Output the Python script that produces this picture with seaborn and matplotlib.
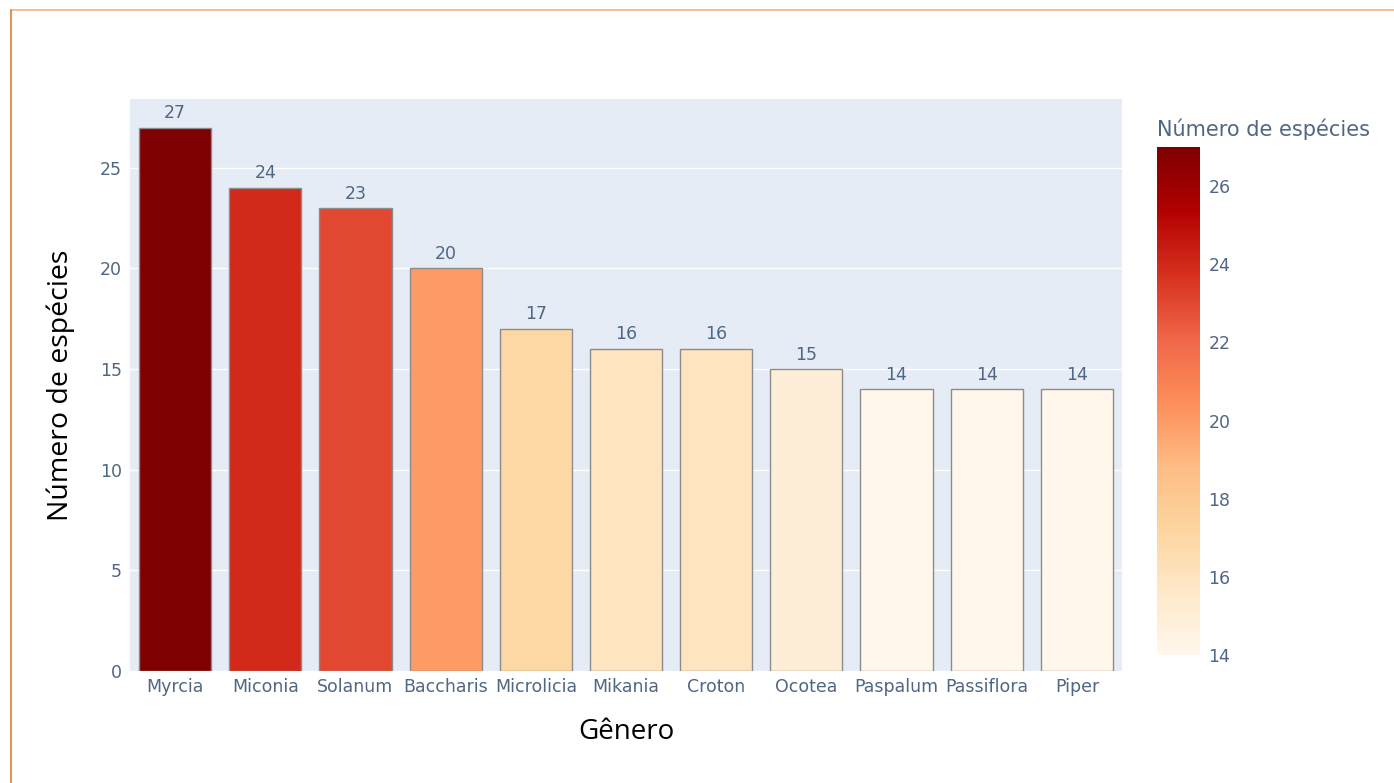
import matplotlib
matplotlib.use("Agg")
import matplotlib.pyplot as plt
import matplotlib.colors as mcolors
import matplotlib.lines as mlines
import pandas as pd
import seaborn as sns

# dados
generos = ['Myrcia', 'Miconia', 'Solanum', 'Baccharis', 'Microlicia', 'Mikania',
           'Croton', 'Ocotea', 'Paspalum', 'Passiflora', 'Piper']
n_especies = [27, 24, 23, 20, 17, 16, 16, 15, 14, 14, 14]
cbar_ticks = [14, 16, 18, 20, 22, 24, 26]

df = pd.DataFrame({'Gênero': generos, 'Número de espécies': n_especies})

sns.set_theme(style='darkgrid')
plt.rcParams['font.family'] = ['DejaVu Sans']

tick_color = '#506784'
titulo_fonte = ['Open Sans', 'DejaVu Sans']
fig = plt.figure(figsize=(13.94, 7.83), dpi=100)
ax = fig.add_axes([130 / 1394, 112 / 783, 992 / 1394, 572 / 783])
ax.set_facecolor('#E5ECF6')

norm = mcolors.Normalize(vmin=min(n_especies), vmax=max(n_especies))
cmap = plt.get_cmap('OrRd')

sns.barplot(data=df, x='Gênero', y='Número de espécies', hue='Número de espécies',
            palette=cmap, hue_norm=norm, legend=False, width=0.8, saturation=1,
            edgecolor='#8c8c8c', linewidth=1.0, ax=ax, zorder=3)

for cont in ax.containers:
    ax.bar_label(cont, fmt='%d', padding=4, fontsize=12.5, color=tick_color)

ax.set_ylim(0, 28.42)
ax.set_xlim(-0.5, len(generos) - 0.5)
ax.set_yticks([0, 5, 10, 15, 20, 25])
ax.grid(axis='x', visible=False)
ax.grid(axis='y', color='white', linewidth=1.0)
ax.set_axisbelow(True)
for s in ax.spines.values():
    s.set_visible(False)
ax.tick_params(axis='both', length=0, labelsize=12.5, colors=tick_color, pad=6)
ax.tick_params(axis='x', pad=5)
ax.set_xlabel('Gênero', fontsize=20, color='black', labelpad=16, family=titulo_fonte)
ax.set_ylabel('Número de espécies', fontsize=20.5, color='black', labelpad=18,
              family=titulo_fonte)

# barra de cores
cax = fig.add_axes([1157 / 1394, 128 / 783, 43 / 1394, 508 / 783])
sm = plt.cm.ScalarMappable(norm=norm, cmap=cmap)
cb = fig.colorbar(sm, cax=cax, ticks=cbar_ticks)
cb.outline.set_visible(False)
cax.tick_params(length=0, labelsize=12.5, colors=tick_color, pad=6)
cax.set_facecolor('white')
cax.set_title('Número de espécies', fontsize=15, color=tick_color, loc='left', pad=8)

# moldura laranja
fig.add_artist(mlines.Line2D([11 / 1394, 1], [1 - 10 / 783, 1 - 10 / 783],
                             color='#f4b183', linewidth=1.2, transform=fig.transFigure))
fig.add_artist(mlines.Line2D([11 / 1394, 11 / 1394], [0, 1 - 10 / 783],
                             color='#e07b39', linewidth=1.2, transform=fig.transFigure))

fig.savefig('out.png', dpi=100, facecolor='white')
